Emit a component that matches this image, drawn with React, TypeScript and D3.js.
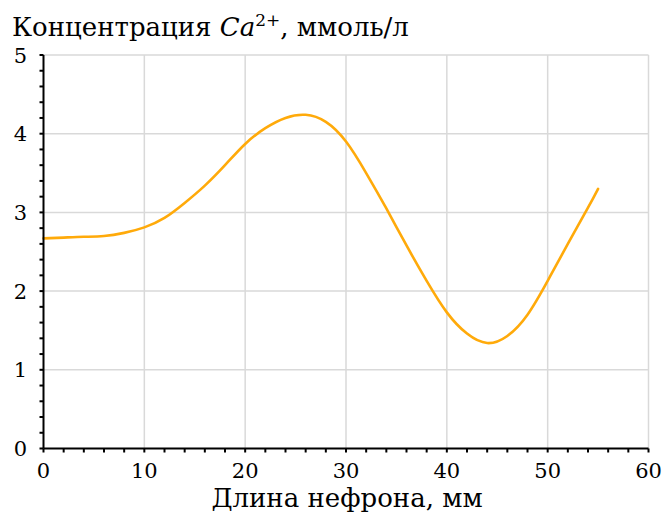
import React from "react";
import * as d3 from "d3";

const xValues = [0, 2, 4, 6, 8, 10, 12, 14, 16, 18, 20, 22, 24, 26, 28, 30, 32, 34, 36, 38, 40, 42, 44, 46, 48, 50, 52, 54, 55];
const yValues = [2.67, 2.68, 2.69, 2.7, 2.74, 2.81, 2.93, 3.12, 3.34, 3.6, 3.87, 4.07, 4.2, 4.24, 4.15, 3.9, 3.5, 3.05, 2.58, 2.13, 1.73, 1.46, 1.34, 1.43, 1.7, 2.13, 2.6, 3.06, 3.3];
const xTicks = [0, 10, 20, 30, 40, 50, 60];
const yTicks = [0, 1, 2, 3, 4, 5];
const xMinorTicks = d3.range(0, 61, 2);
const yMinorTicks = d3.range(0, 5.01, 0.2);
const titleMain = "Концентрация ";
const titleIon = "Ca";
const titleCharge = "2+";
const titleUnit = ", ммоль/л";
const xTitle = "Длина нефрона, мм";

export default function App() {
  const W = 664, H = 516;
  const left = 43.5, right = 648.5, top = 55, bottom = 448.5;
  const x = d3.scaleLinear().domain([0, 60]).range([left, right]);
  const y = d3.scaleLinear().domain([0, 5]).range([bottom, top]);
  const pts: [number, number][] = xValues.map((v, i) => [v, yValues[i]]);
  const line = d3.line<[number, number]>().x(d => x(d[0])).y(d => y(d[1])).curve(d3.curveNatural);
  const font = "DejaVu Serif, serif";
  return (
    <svg width={W} height={H} style={{ position: "absolute", left: 0, top: 0, fontFamily: font }}>
      <rect width={W} height={H} fill="#fff" />
      {yTicks.filter(t => t > 0).map(t => (
        <line key={"gy" + t} x1={left} x2={right} y1={y(t)} y2={y(t)} stroke="#d9d9d9" strokeWidth={1.5} />
      ))}
      {xTicks.filter(t => t > 0).map(t => (
        <line key={"gx" + t} x1={x(t)} x2={x(t)} y1={top} y2={bottom} stroke="#d9d9d9" strokeWidth={1.5} />
      ))}
      <path d={line(pts) || ""} fill="none" stroke="#FFAA0A" strokeWidth={2.6} strokeLinecap="round" />
      <line x1={left} x2={left} y1={top} y2={bottom} stroke="#000" strokeWidth={2} />
      <line x1={left} x2={right} y1={bottom} y2={bottom} stroke="#000" strokeWidth={2} />
      {yMinorTicks.map((t, i) => (
        <line key={"ty" + i} x1={left - 4} x2={left} y1={y(t)} y2={y(t)} stroke="#000" strokeWidth={2} />
      ))}
      {xMinorTicks.map(t => (
        <line key={"tx" + t} x1={x(t)} x2={x(t)} y1={bottom} y2={bottom + 4} stroke="#000" strokeWidth={2} />
      ))}
      {yTicks.map(t => (
        <text key={"ly" + t} x={27} y={y(t)} dy="0.36em" textAnchor="end" fontSize={21}>{t}</text>
      ))}
      {xTicks.map(t => (
        <text key={"lx" + t} x={x(t)} y={478} textAnchor="middle" fontSize={21}>{t}</text>
      ))}
      <text x={12} y={36} fontSize={26}>
        {titleMain}
        <tspan fontStyle="italic">{titleIon}</tspan>
        <tspan fontSize={17} dy={-10}>{titleCharge}</tspan>
        <tspan dy={10}>{titleUnit}</tspan>
      </text>
      <text x={347} y={507} textAnchor="middle" fontSize={26}>{xTitle}</text>
    </svg>
  );
}
